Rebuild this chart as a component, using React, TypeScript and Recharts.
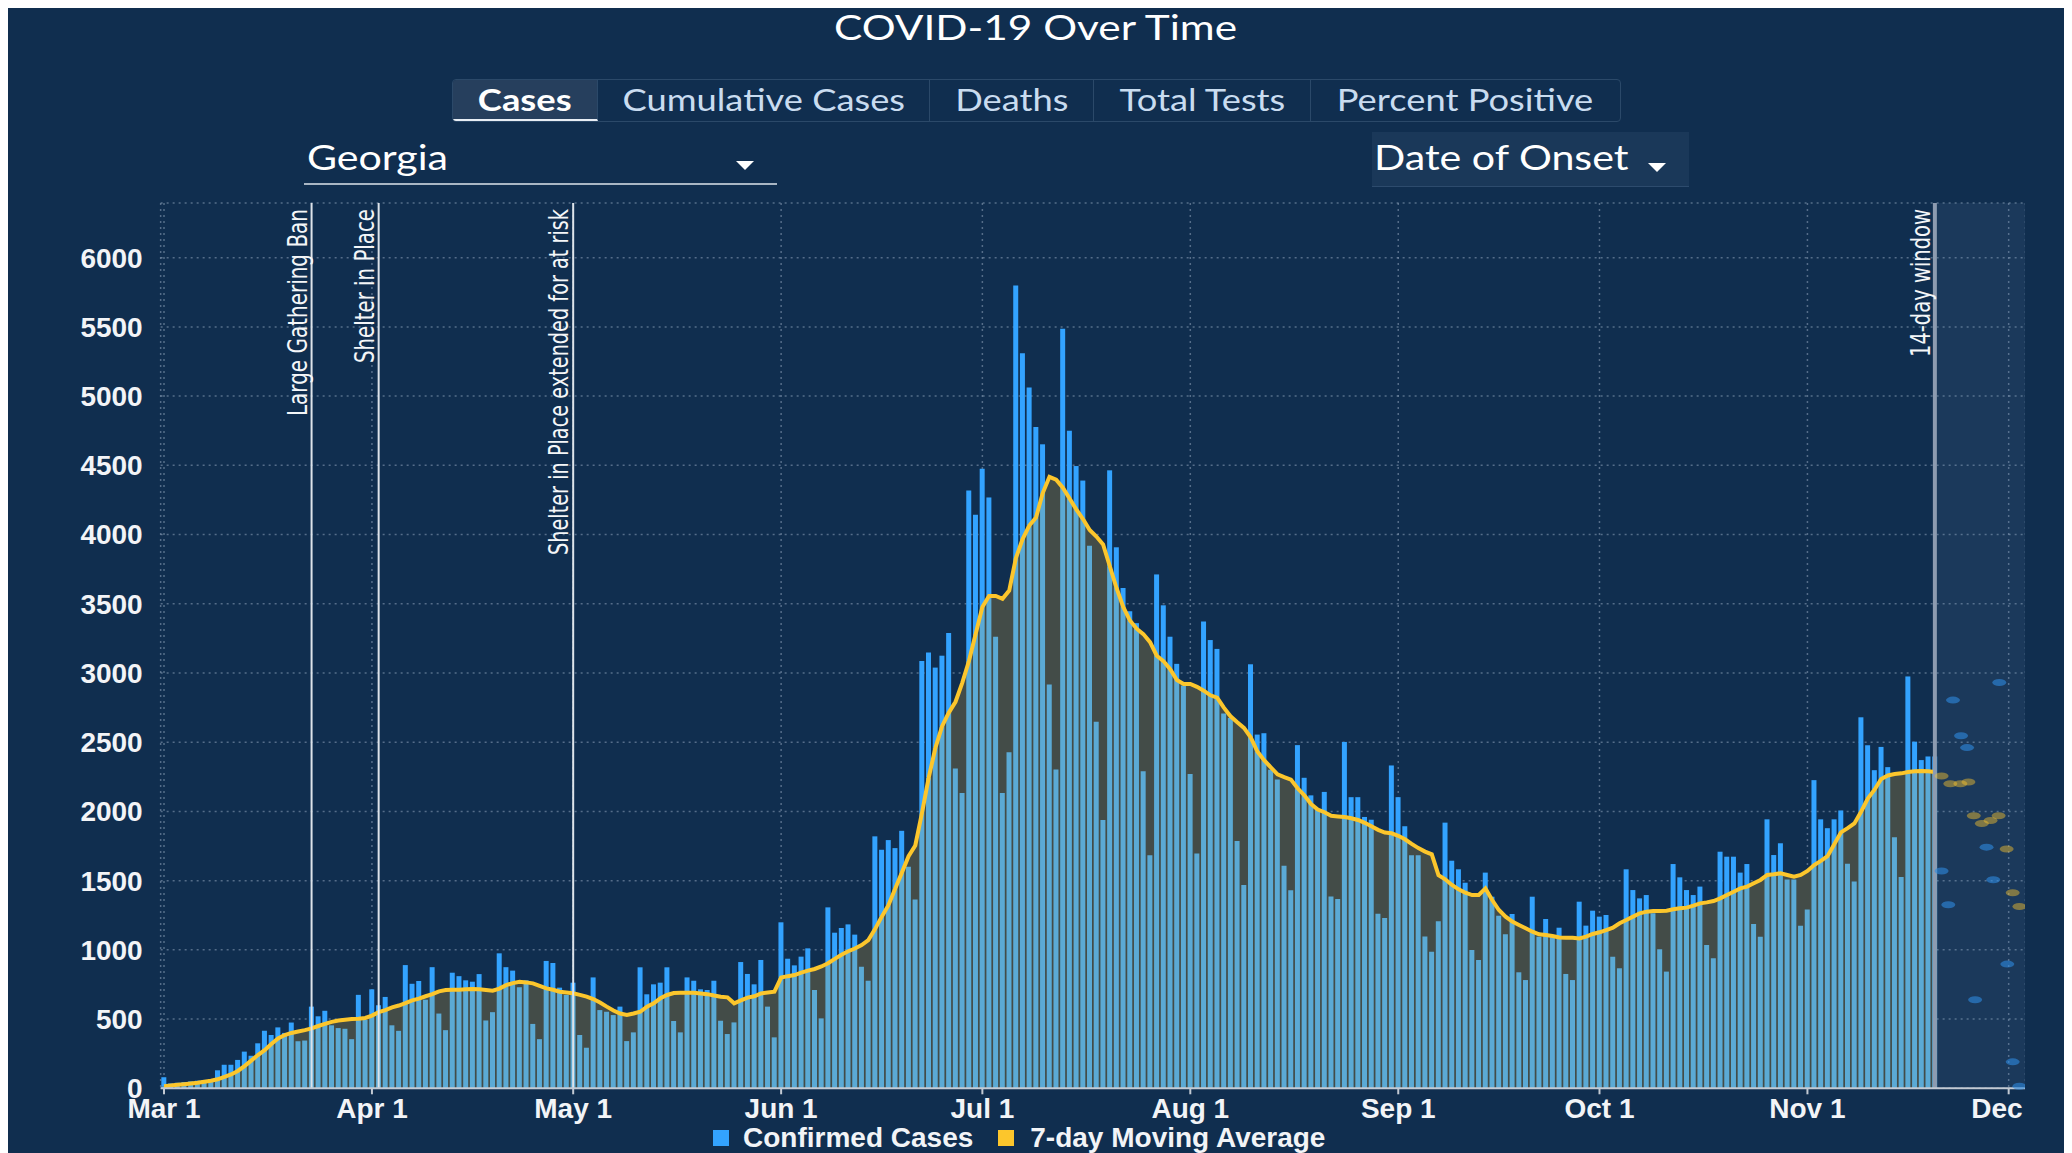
import React from "react";
import {
  Area,
  Bar,
  CartesianGrid,
  ComposedChart,
  Line,
  ReferenceArea,
  ReferenceLine,
  Scatter,
  XAxis,
  YAxis,
} from "recharts";

// categories: one per day, Mar 1 .. Dec 3
const monthNames = ["Mar", "Apr", "May", "Jun", "Jul", "Aug", "Sep", "Oct", "Nov", "Dec"];
const monthLengths = [31, 30, 31, 30, 31, 31, 30, 31, 30, 3];
const monthTicks = ["Mar 1", "Apr 1", "May 1", "Jun 1", "Jul 1", "Aug 1", "Sep 1", "Oct 1", "Nov 1", "Dec 1"];
const yTicks = [0, 500, 1000, 1500, 2000, 2500, 3000, 3500, 4000, 4500, 5000, 5500, 6000];

// confirmed cases by date of onset
const marCases = [80, 35, 40, 45, 50, 55, 60, 65, 130, 170, 170, 205, 265, 235, 325, 415, 385, 440, 400, 475, 340, 345, 590, 520, 560, 455, 435, 430, 355, 675, 495];
const aprCases = [715, 600, 660, 455, 415, 890, 755, 775, 640, 875, 540, 420, 835, 810, 780, 770, 825, 490, 550, 975, 875, 850, 730, 780, 465, 355, 920, 905, 727, 674];
const mayCases = [763, 385, 293, 801, 565, 553, 529, 590, 341, 404, 874, 679, 751, 763, 874, 486, 404, 801, 777, 715, 710, 777, 488, 392, 476, 912, 826, 751, 927, 590, 368];
const junCases = [1199, 936, 888, 951, 1011, 710, 505, 1307, 1124, 1158, 1184, 1110, 878, 777, 1820, 1723, 1793, 1735, 1860, 1600, 1363, 3086, 3148, 3039, 3125, 3289, 2310, 2134, 4319, 4143];
const julCases = [4476, 4268, 3262, 2134, 2428, 5799, 5310, 5063, 4777, 4652, 2917, 2302, 5486, 4750, 4495, 4390, 3920, 2647, 1938, 4464, 3908, 3614, 3446, 3360, 2291, 1684, 3712, 3489, 3262, 3066, 2909];
const augCases = [2271, 1696, 3372, 3238, 3174, 2707, 2674, 1786, 1469, 3063, 2555, 2565, 2301, 2230, 1608, 1431, 2479, 2243, 2116, 2014, 2141, 1385, 1367, 2502, 2103, 2103, 1960, 1940, 1260, 1230, 2332];
const sepCases = [2103, 1893, 1684, 1684, 1096, 986, 1207, 1919, 1644, 1582, 1485, 999, 927, 1558, 1384, 1247, 1112, 1259, 838, 782, 1384, 1095, 1223, 1107, 1160, 826, 782, 1348, 1175, 1283];
const octCases = [1240, 1252, 951, 867, 1582, 1432, 1372, 1396, 1264, 1004, 843, 1620, 1524, 1432, 1396, 1457, 1035, 939, 1709, 1673, 1673, 1558, 1620, 1187, 1095, 1943, 1685, 1770, 1509, 1509, 1175];
const novCases = [1292, 2226, 1943, 1879, 1943, 2007, 1622, 1493, 2680, 2478, 2298, 2466, 2320, 1814, 1527, 2975, 2504, 2371, 2397, 2397];

// 7-day moving average
const marAvg = [15, 20, 25, 30, 35, 40, 48, 55, 65, 82, 100, 125, 160, 200, 240, 275, 320, 360, 385, 400, 410, 420, 433, 450, 465, 480, 490, 495, 500, 503, 508];
const aprAvg = [525, 550, 565, 585, 598, 615, 635, 648, 665, 680, 700, 710, 712, 712, 715, 718, 715, 710, 705, 720, 745, 760, 770, 765, 758, 740, 722, 712, 698, 692];
const mayAvg = [686, 675, 662, 645, 620, 590, 562, 540, 529, 540, 553, 590, 614, 650, 674, 688, 691, 691, 690, 685, 680, 670, 662, 657, 614, 635, 655, 665, 685, 692, 698];
const junAvg = [800, 810, 818, 835, 850, 862, 880, 903, 935, 965, 990, 1010, 1035, 1071, 1150, 1240, 1323, 1441, 1558, 1676, 1754, 1989, 2244, 2459, 2616, 2714, 2792, 2929, 3086, 3281];
const julAvg = [3477, 3556, 3556, 3536, 3595, 3830, 3967, 4065, 4123, 4300, 4417, 4397, 4339, 4260, 4182, 4112, 4033, 3986, 3928, 3771, 3614, 3477, 3379, 3320, 3281, 3223, 3125, 3086, 3027, 2949, 2921];
const augAvg = [2921, 2900, 2872, 2839, 2822, 2750, 2687, 2644, 2603, 2535, 2433, 2370, 2319, 2268, 2248, 2230, 2167, 2116, 2053, 2014, 1994, 1969, 1964, 1959, 1951, 1938, 1918, 1893, 1867, 1847, 1842];
const sepAvg = [1824, 1799, 1766, 1735, 1710, 1690, 1540, 1510, 1469, 1437, 1413, 1396, 1396, 1444, 1360, 1288, 1240, 1204, 1180, 1156, 1131, 1112, 1107, 1100, 1090, 1088, 1088, 1083, 1095, 1115];
const octAvg = [1127, 1143, 1160, 1192, 1216, 1240, 1264, 1276, 1281, 1281, 1283, 1293, 1300, 1305, 1319, 1336, 1343, 1353, 1372, 1396, 1420, 1444, 1457, 1481, 1505, 1541, 1546, 1553, 1541, 1529, 1541];
const novAvg = [1570, 1613, 1643, 1677, 1763, 1849, 1879, 1913, 1998, 2093, 2157, 2234, 2260, 2270, 2275, 2285, 2290, 2292, 2290, 2285];

// faded points inside the 14-day window (day index from Mar 1)
const blueDotDays = [265.0, 266.0, 266.7, 267.9, 268.8, 270.0, 271.7, 272.7, 273.6, 274.8, 275.6, 276.6];
const blueDotValues = [1570, 1326, 2804, 2547, 2461, 640, 1742, 1506, 2932, 897, 191, 15];
const yellowDotDays = [265.0, 266.3, 267.8, 269.0, 269.8, 271.0, 272.3, 273.5, 274.7, 275.6, 276.6];
const yellowDotValues = [2256, 2200, 2200, 2213, 1969, 1913, 1934, 1969, 1729, 1412, 1313];

const eventDates = ["Mar 23", "Apr 2", "May 1", "Nov 20"];
const eventLabels = ["Large Gathering Ban", "Shelter in Place", "Shelter in Place extended for at risk", "14-day window"];
const eventLengths = [207, 154, 346, 148];

const tabs = ["Cases", "Cumulative Cases", "Deaths", "Total Tests", "Percent Positive"];
const tabWidths = [145, 332, 164, 217, 309];

const BG = "#102e4f";
const BLUE = "#33a3ff";
const BLUE_UNDER = "#5baad5";
const AVG_FILL = "#434c48";
const YELLOW = "#fcc62c";
const axisFont = "'Liberation Sans', Arial, sans-serif";
const WIDE = 1.21; // header text is drawn wider than plain Lato

const dates = monthNames.flatMap((m, i) => Array.from({ length: monthLengths[i] }, (_, k) => `${m} ${k + 1}`));
const cases = [...marCases, ...aprCases, ...mayCases, ...junCases, ...julCases, ...augCases, ...sepCases, ...octCases, ...novCases];
const avg = [...marAvg, ...aprAvg, ...mayAvg, ...junAvg, ...julAvg, ...augAvg, ...sepAvg, ...octAvg, ...novAvg];

const data = dates.map((date, i) => {
  const v = cases[i];
  const a = avg[i];
  if (v == null) return { date };
  return { date, avg: a, under: Math.min(v, a), over: Math.max(0, v - a) };
});
const blueDots = blueDotDays.map((x, i) => ({ x, y: blueDotValues[i] }));
const yellowDots = yellowDotDays.map((x, i) => ({ x, y: yellowDotValues[i] }));

function VLabel(props: any) {
  const { viewBox, text, len } = props;
  if (!viewBox) return null;
  const x = viewBox.x - 5;
  const y = viewBox.y + 6;
  return (
    <text
      x={x}
      y={y}
      transform={`rotate(-90, ${x}, ${y})`}
      textAnchor="end"
      fill="#f4f6f8"
      fontSize={27}
      fontFamily="'Liberation Sans Narrow', 'DejaVu Sans Condensed', sans-serif"
      textLength={len}
      lengthAdjust="spacingAndGlyphs"
    >
      {text}
    </text>
  );
}

const dotShape = (color: string, opacity: number) => (p: any) =>
  <ellipse cx={p.cx} cy={p.cy} rx={7} ry={3.5} fill={color} fillOpacity={opacity} />;

function Caret({ left, top }: { left: number; top: number }) {
  return (
    <div style={{ position: "absolute", left, top, width: 0, height: 0, borderLeft: "9px solid transparent", borderRight: "9px solid transparent", borderTop: "9px solid #ffffff" }} />
  );
}

function Wide({ children, origin }: { children: React.ReactNode; origin: string }) {
  return <span style={{ display: "inline-block", transform: `scaleX(${WIDE})`, transformOrigin: origin }}>{children}</span>;
}

export default function App() {
  return (
    <div style={{ position: "relative", width: 2064, height: 1148, marginTop: -3, background: BG, overflow: "hidden", fontFamily: "Lato, sans-serif" }}>
      <div style={{ position: "absolute", left: 0, top: 3, width: 2056, textAlign: "center", color: "#ffffff", fontSize: 35, lineHeight: "36px" }}>
        <Wide origin="center">COVID-19 Over Time</Wide>
      </div>

      <div style={{ position: "absolute", left: 444, top: 74, height: 41, display: "flex", border: "1px solid #2b4969", borderRadius: 4, overflow: "hidden" }}>
        {tabs.map((t, i) => (
          <div
            key={t}
            style={{
              width: tabWidths[i],
              boxSizing: "border-box",
              textAlign: "center",
              lineHeight: "39px",
              fontSize: 30,
              color: i === 0 ? "#ffffff" : "#c9dcf0",
              fontWeight: i === 0 ? 700 : 400,
              background: i === 0 ? "#263f5d" : "transparent",
              borderRight: i < tabs.length - 1 ? "1px solid #2b4969" : "none",
              borderBottom: i === 0 ? "2px solid #e8eef5" : "none",
            }}
          >
            <Wide origin="center">{t}</Wide>
          </div>
        ))}
      </div>

      <div style={{ position: "absolute", left: 299, top: 130, color: "#ffffff", fontSize: 34, lineHeight: "44px" }}>
        <Wide origin="left">Georgia</Wide>
      </div>
      <div style={{ position: "absolute", left: 296, top: 178, width: 473, height: 2, background: "#a9b6c4" }} />
      <Caret left={728} top={156} />

      <div style={{ position: "absolute", left: 1364, top: 127, width: 317, height: 54, background: "#1a3859", borderBottom: "1px solid #2d4b6d" }} />
      <div style={{ position: "absolute", left: 1366, top: 130, color: "#ffffff", fontSize: 34, lineHeight: "44px" }}>
        <Wide origin="left">Date of Onset</Wide>
      </div>
      <Caret left={1640} top={158} />

      <div style={{ position: "absolute", left: 0, top: 145 }}>
        <ComposedChart width={2017.45} height={1000} data={data} margin={{ top: 53, right: 0, bottom: 21.7, left: 0 }} barCategoryGap="10%">
          <CartesianGrid stroke="#8ea3ba" strokeOpacity={0.55} strokeDasharray="2 4" strokeWidth={1.5} />
          <XAxis
            dataKey="date"
            ticks={monthTicks}
            interval={0}
            height={40}
            tickSize={6}
            tickMargin={4}
            axisLine={{ stroke: "#c3cad3", strokeWidth: 2 }}
            tickLine={{ stroke: "#c3cad3", strokeWidth: 2 }}
            tick={{ fill: "#f2f4f7", fontSize: 28, fontWeight: 700, fontFamily: axisFont }}
          />
          <XAxis xAxisId="dots" type="number" dataKey="x" domain={[-0.5, 277.5]} allowDataOverflow hide />
          <YAxis
            width={152.65}
            domain={[0, 6395]}
            ticks={yTicks}
            interval={0}
            axisLine={false}
            tickLine={false}
            tickSize={0}
            tickMargin={18}
            tick={{ fill: "#f2f4f7", fontSize: 28, fontWeight: 700, fontFamily: axisFont }}
          />
          <ReferenceArea xAxisId="dots" x1={263.9} x2={277.5} fill="#6b8fb8" fillOpacity={0.12} stroke="none" />
          <Area type="linear" dataKey="avg" fill={AVG_FILL} fillOpacity={1} stroke="none" isAnimationActive={false} connectNulls={false} />
          <Bar dataKey="under" stackId="c" fill={BLUE_UNDER} isAnimationActive={false} />
          <Bar dataKey="over" stackId="c" fill={BLUE} isAnimationActive={false} />
          <Line type="linear" dataKey="avg" stroke={YELLOW} strokeWidth={4} dot={false} isAnimationActive={false} />
          <Scatter xAxisId="dots" data={blueDots} dataKey="y" shape={dotShape("#2f8ae0", 0.6)} isAnimationActive={false} />
          <Scatter xAxisId="dots" data={yellowDots} dataKey="y" shape={dotShape(YELLOW, 0.45)} isAnimationActive={false} />
          {eventDates.map((d, i) => (
            <ReferenceLine
              key={d}
              x={d}
              stroke={i === 3 ? "#8d9bb0" : "#dde3ea"}
              strokeWidth={i === 3 ? 4 : 2}
              label={<VLabel text={eventLabels[i]} len={eventLengths[i]} />}
            />
          ))}
        </ComposedChart>
      </div>

      <div style={{ position: "absolute", left: 705, top: 1117, display: "flex", alignItems: "center", color: "#f2f4f7", fontFamily: axisFont, fontWeight: 700, fontSize: 28, lineHeight: "32px" }}>
        <span style={{ width: 16, height: 16, background: BLUE, marginRight: 14 }} />
        <span>Confirmed Cases</span>
        <span style={{ width: 16, height: 16, background: YELLOW, marginLeft: 25, marginRight: 16 }} />
        <span>7-day Moving Average</span>
      </div>
    </div>
  );
}
